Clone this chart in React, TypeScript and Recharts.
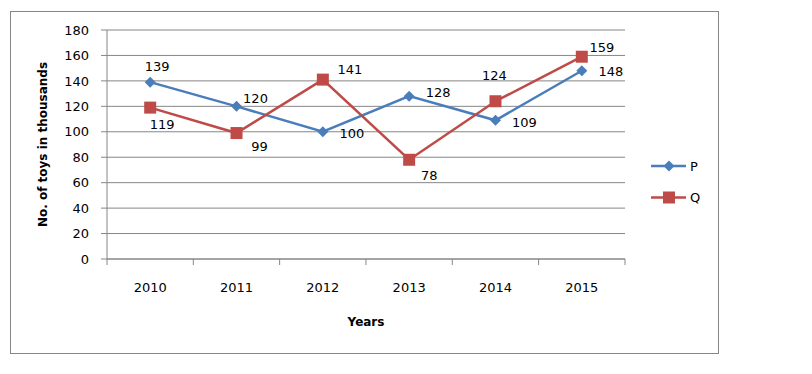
import { LineChart, Line, XAxis, YAxis, CartesianGrid, Legend, LabelList } from 'recharts'

const YEARS = ['2010', '2011', '2012', '2013', '2014', '2015']
const P_VALUES = [139, 120, 100, 128, 109, 148]
const Q_VALUES = [119, 99, 141, 78, 124, 159]
const Y_TICKS = [0, 20, 40, 60, 80, 100, 120, 140, 160, 180]

// where each value label sits relative to its point (dx, dy)
const P_LABEL_OFFSETS = [[7, -16], [19, -8], [29, 2], [29, -4], [29, 2], [29, 1]]
const Q_LABEL_OFFSETS = [[12, 17], [23, 13], [27, -10], [20, 16], [-1, -26], [20, -9]]

const COLORS = {
  p: '#4A7EBB',
  q: '#BE4B48',
  grid: '#868686',
  text: '#000000'
}

const FONT = '"DejaVu Sans", sans-serif'
const HALF_STEP = 43.2

const data = YEARS.map((year, i) => ({ year, p: P_VALUES[i], q: Q_VALUES[i] }))

function Diamond({ cx, cy, fill }: any) {
  if (cx == null || cy == null) return null
  const r = 5.5
  return <path d={`M${cx},${cy - r}L${cx + r},${cy}L${cx},${cy + r}L${cx - r},${cy}Z`} fill={fill} />
}

function Square({ cx, cy, fill }: any) {
  if (cx == null || cy == null) return null
  const s = 6
  return <rect x={cx - s} y={cy - s} width={s * 2} height={s * 2} fill={fill} />
}

const renderLabel = (offsets: number[][]) => (props: any) => {
  const { x, y, value, index } = props
  const [dx, dy] = offsets[index] || [0, 0]
  return (
    <text x={x + dx} y={y + dy} dy="0.35em" textAnchor="middle" fontFamily={FONT} fontSize={13} fill={COLORS.text}>
      {value}
    </text>
  )
}

function XTick({ x, y, payload, index }: any) {
  const last = index === YEARS.length - 1
  return (
    <g>
      <line x1={x - HALF_STEP} y1={y} x2={x - HALF_STEP} y2={y + 6} stroke={COLORS.grid} />
      {last && <line x1={x + HALF_STEP} y1={y} x2={x + HALF_STEP} y2={y + 6} stroke={COLORS.grid} />}
      <text x={x} y={y + 28} dy="0.35em" textAnchor="middle" fontFamily={FONT} fontSize={13} fill={COLORS.text}>
        {payload.value}
      </text>
    </g>
  )
}

function LegendBox() {
  const rows = [
    { name: 'P', color: COLORS.p, y: 8 },
    { name: 'Q', color: COLORS.q, y: 39.5 }
  ]
  return (
    <svg width={70} height={52}>
      {rows.map(r => (
        <g key={r.name}>
          <line x1={0} y1={r.y} x2={35} y2={r.y} stroke={r.color} strokeWidth={2.5} />
          {r.name === 'P' ? <Diamond cx={18} cy={r.y} fill={r.color} /> : <Square cx={18} cy={r.y} fill={r.color} />}
          <text x={39} y={r.y} dy="0.35em" fontFamily={FONT} fontSize={13} fill={COLORS.text}>{r.name}</text>
        </g>
      ))}
    </svg>
  )
}

export default function App() {
  return (
    <div style={{ position: 'relative', width: 804, height: 358 }}>
      <div
        style={{
          position: 'absolute',
          left: 2,
          top: 3,
          width: 709,
          height: 343,
          boxSizing: 'border-box',
          border: `1px solid ${COLORS.grid}`
        }}
      />
      <LineChart
        width={720}
        height={350}
        data={data}
        margin={{ top: 22, right: 103, bottom: 69, left: 0 }}
        style={{ position: 'absolute', left: 0, top: 0 }}
      >
        <CartesianGrid vertical={false} stroke={COLORS.grid} />
        <XAxis
          dataKey="year"
          height={30}
          padding={{ left: HALF_STEP, right: HALF_STEP }}
          axisLine={{ stroke: COLORS.grid }}
          tickLine={false}
          tickSize={0}
          tickMargin={0}
          tick={<XTick />}
          interval={0}
          label={({ viewBox }: any) => (
            <text
              x={viewBox.x + viewBox.width / 2}
              y={viewBox.y + 63}
              dy="0.35em"
              textAnchor="middle"
              fontFamily={FONT}
              fontSize={12}
              fontWeight="bold"
              fill={COLORS.text}
            >
              Years
            </text>
          )}
        />
        <YAxis
          width={99}
          domain={[0, 180]}
          ticks={Y_TICKS}
          interval={0}
          axisLine={{ stroke: COLORS.grid }}
          tickLine={{ stroke: COLORS.grid }}
          tickSize={6}
          tickMargin={12}
          tick={{ fontFamily: FONT, fontSize: 13, fill: COLORS.text }}
          label={({ viewBox }: any) => {
            const cx = 35
            const cy = viewBox.y + viewBox.height / 2
            return (
              <text
                x={cx}
                y={cy}
                dy="0.35em"
                textAnchor="middle"
                transform={`rotate(-90 ${cx} ${cy})`}
                fontFamily={FONT}
                fontSize={12}
                fontWeight="bold"
                fill={COLORS.text}
              >
                No. of toys in thousands
              </text>
            )
          }}
        />
        <Legend
          layout="horizontal"
          verticalAlign="middle"
          align="center"
          content={<LegendBox />}
          wrapperStyle={{ position: 'absolute', left: 643, top: 150, width: 70 }}
        />
        <Line
          dataKey="p"
          name="P"
          stroke={COLORS.p}
          strokeWidth={2.5}
          dot={<Diamond fill={COLORS.p} />}
          activeDot={false}
          isAnimationActive={false}
        >
          <LabelList dataKey="p" content={renderLabel(P_LABEL_OFFSETS)} />
        </Line>
        <Line
          dataKey="q"
          name="Q"
          stroke={COLORS.q}
          strokeWidth={2.5}
          dot={<Square fill={COLORS.q} />}
          activeDot={false}
          isAnimationActive={false}
        >
          <LabelList dataKey="q" content={renderLabel(Q_LABEL_OFFSETS)} />
        </Line>
      </LineChart>
    </div>
  )
}
